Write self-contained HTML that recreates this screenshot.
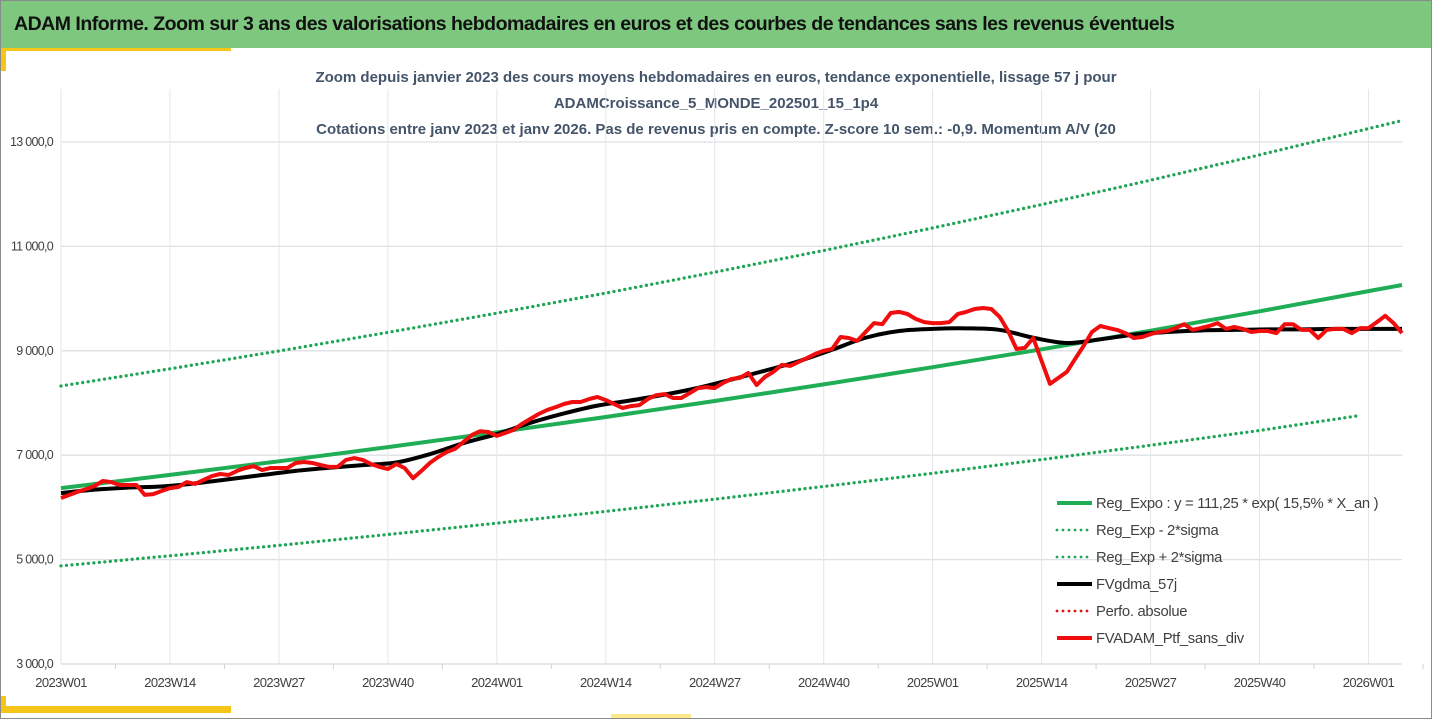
<!DOCTYPE html>
<html><head><meta charset="utf-8">
<style>
body{margin:0;background:#fff;width:1432px;height:719px;overflow:hidden;font-family:"Liberation Sans",sans-serif;}
#wrap{position:relative;width:1430px;height:717px;border:1px solid #8a8a8a;}
#hdr{position:absolute;left:0;top:0;width:1430px;height:47px;background:#7dc77f;}
#hdr span{position:absolute;left:13px;top:12px;font-size:19.5px;font-weight:bold;color:#111;letter-spacing:-0.5px;}
svg{position:absolute;left:0;top:0;}
</style></head><body>
<div id="wrap">
<div id="hdr"><span>ADAM Informe. Zoom sur 3 ans des valorisations hebdomadaires en euros et des courbes de tendances sans les revenus éventuels</span></div>
<svg id="chart" width="1430" height="717"></svg>
</div>
<script>
const weekLabels=["2023W01","2023W14","2023W27","2023W40","2024W01","2024W14","2024W27","2024W40","2025W01","2025W14","2025W27","2025W40","2026W01"];
const yTicks=[3000,5000,7000,9000,11000,13000];
const yTickLabels=["3 000,0","5 000,0","7 000,0","9 000,0","11 000,0","13 000,0"];
const trendIdx=[0,13,26,39,52,65,78,91,104,117,130,143,156,160];
const regExpo=[6370,6622,6883,7155,7438,7732,8038,8356,8686,9029,9386,9757,10143,10260];
const regUpper=[8326,8655,8996,9352,9721,10106,10506,10921,11353,11801,12268,12752,13257,13410];
const lowerIdx=[0,13,26,39,52,65,78,91,104,117,130,143,155];
const regLower=[4879,5072,5272,5481,5697,5923,6157,6401,6653,6916,7190,7474,7760];
const blackIdx=[0,4,8,12,16,20,24,28,32,36,40,44,48,52,56,60,64,68,72,76,80,84,88,92,96,100,104,108,112,116,120,124,128,132,136,140,144,148,152,156,160];
const fvgdma=[6275,6340,6380,6400,6460,6540,6620,6700,6760,6810,6860,7020,7230,7405,7620,7800,7950,8050,8160,8290,8450,8620,8800,9020,9250,9380,9420,9430,9400,9250,9150,9220,9310,9360,9390,9400,9410,9410,9420,9420,9420];
const fvadam=[6180,6240,6300,6350,6410,6505,6485,6430,6430,6430,6240,6255,6315,6370,6390,6485,6450,6525,6600,6640,6620,6700,6755,6790,6715,6755,6755,6755,6850,6870,6850,6810,6775,6775,6910,6945,6910,6830,6775,6735,6830,6755,6560,6700,6850,6965,7060,7120,7250,7385,7460,7445,7370,
7425,7485,7600,7695,7790,7865,7920,7980,8020,8020,8075,8115,8055,7980,7905,7940,7960,8075,8150,8170,8095,8095,8190,8285,8305,8285,8385,8460,8480,8575,8345,8500,8595,8730,8710,8785,8860,8940,9000,9035,9265,9245,9190,9360,9530,9510,9725,9745,9705,9610,9550,9530,9530,9550,9705,9745,9800,9820,9800,9650,9380,9035,9055,9245,8805,8365,8480,8595,8845,9090,9360,9475,9435,9400,9340,9245,9265,9320,9360,9380,9435,9510,9400,9435,9475,9530,9420,9455,9420,9360,9380,9380,9340,9510,9510,9400,9400,9245,9400,9420,9420,9340,9435,9435,9550,9670,9530,9340];

const NS="http://www.w3.org/2000/svg";
const svg=document.getElementById('chart');
const X0=60,X1=1401,NMAX=160,Y0=663;
const xs=i=>X0+(X1-X0)*i/NMAX;
const ys=v=>Y0-(v-3000)*(663-141)/10000;
function mk(tag,attrs,parent){const e=document.createElementNS(NS,tag);for(const k in attrs)e.setAttribute(k,attrs[k]);(parent||svg).appendChild(e);return e;}
function txt(s,attrs){const e=mk('text',attrs);e.textContent=s;return e;}

let a;
a=mk('rect',{x:0,y:47,width:230,height:3,fill:'#f5c518'});
a=mk('rect',{x:0,y:47,width:5,height:23,fill:'#f5c518'});
a=mk('rect',{x:0,y:705,width:230,height:7,fill:'#f5c518'});
a=mk('rect',{x:0,y:695,width:5,height:17,fill:'#f5c518'});
a=mk('rect',{x:610,y:713,width:80,height:4,fill:'#fbe98a'});

const titles=["Zoom depuis janvier 2023 des cours moyens hebdomadaires  en euros, tendance exponentielle, lissage 57 j pour","ADAMCroissance_5_MONDE_202501_15_1p4","Cotations entre janv 2023 et janv 2026. Pas de revenus pris en compte. Z-score 10 sem.: -0,9. Momentum  A/V (20"];
titles.forEach((t,k)=>{const e=txt(t,{x:715,y:81+k*26,'text-anchor':'middle','font-size':'15','font-weight':'bold',fill:'#44546a'});
});

yTicks.forEach((v,k)=>{
 if(k>0){const g=mk('line',{x1:X0,x2:X1,y1:ys(v),y2:ys(v),stroke:'#dde1e6','stroke-width':1.3});}
 const l=txt(yTickLabels[k],{x:52,y:ys(v)+4,'text-anchor':'end','font-size':'12.5',fill:'#404040','letter-spacing':'-0.7'});
 
});
weekLabels.forEach((w,k)=>{
 const x=xs(k*13);
 const g=mk('line',{x1:x,x2:x,y1:88,y2:Y0,stroke:'#e3e6ea','stroke-width':1});
 const t=mk('line',{x1:xs(k*13+6.5),x2:xs(k*13+6.5),y1:Y0,y2:Y0+5,stroke:'#d0d0d0'});
 const l=txt(w,{x:x,y:686,'text-anchor':'middle','font-size':'13',fill:'#404040','letter-spacing':'-0.6'});
 
});
a=mk('line',{x1:X0,x2:X1,y1:Y0,y2:Y0,stroke:'#d9d9d9','stroke-width':1.3});

function path(idx,vals){return idx.map((i,k)=>(k?'L':'M')+xs(i).toFixed(1)+','+ys(vals[k]).toFixed(1)).join(' ');}
function smooth(idx,vals){const p=idx.map((i,k)=>[xs(i),ys(vals[k])]);let d='M'+p[0][0]+','+p[0][1];
 for(let k=0;k<p.length-1;k++){const p0=p[Math.max(0,k-1)],p1=p[k],p2=p[k+1],p3=p[Math.min(p.length-1,k+2)];
 d+=' C'+(p1[0]+(p2[0]-p0[0])/6)+','+(p1[1]+(p2[1]-p0[1])/6)+' '+(p2[0]-(p3[0]-p1[0])/6)+','+(p2[1]-(p3[1]-p1[1])/6)+' '+p2[0]+','+p2[1];}return d;}
const allIdx=fvadam.map((_,i)=>i);

let s;
s=mk('path',{d:path(trendIdx,regUpper),fill:'none',stroke:'#1fa556','stroke-width':3.3,'stroke-dasharray':'0 5.5','stroke-linecap':'round'});
s=mk('path',{d:path(lowerIdx,regLower),fill:'none',stroke:'#1fa556','stroke-width':3.3,'stroke-dasharray':'0 5.5','stroke-linecap':'round'});
s=mk('path',{d:path(trendIdx,regExpo),fill:'none',stroke:'#1fad55','stroke-width':4});
s=mk('path',{d:smooth(blackIdx,fvgdma),fill:'none',stroke:'#000','stroke-width':4});
s=mk('path',{d:path(allIdx,fvadam),fill:'none',stroke:'#f00d0d','stroke-width':4,'stroke-linejoin':'round'});

const legNames=["Reg_Expo : y = 111,25 * exp( 15,5% *  X_an )","Reg_Exp - 2*sigma","Reg_Exp + 2*sigma","FVgdma_57j","Perfo. absolue","FVADAM_Ptf_sans_div"];
const legColors=['#1fad55','#1fa556','#1fa556','#000','#e01010','#f00d0d'];
const legDot=[false,true,true,false,true,false];
legNames.forEach((n,k)=>{
 const y=502+k*27;
 const l=mk('line',{x1:1056,x2:1091,y1:y,y2:y,stroke:legColors[k],'stroke-width':legDot[k]?2.8:4,'stroke-dasharray':legDot[k]?'0 6':'none','stroke-linecap':legDot[k]?'round':'butt'});
 
 const t=txt(n,{x:1095,y:y+5,'font-size':'14.8',fill:'#404040','letter-spacing':'-0.3'});
 
});
</script>
</body></html>
